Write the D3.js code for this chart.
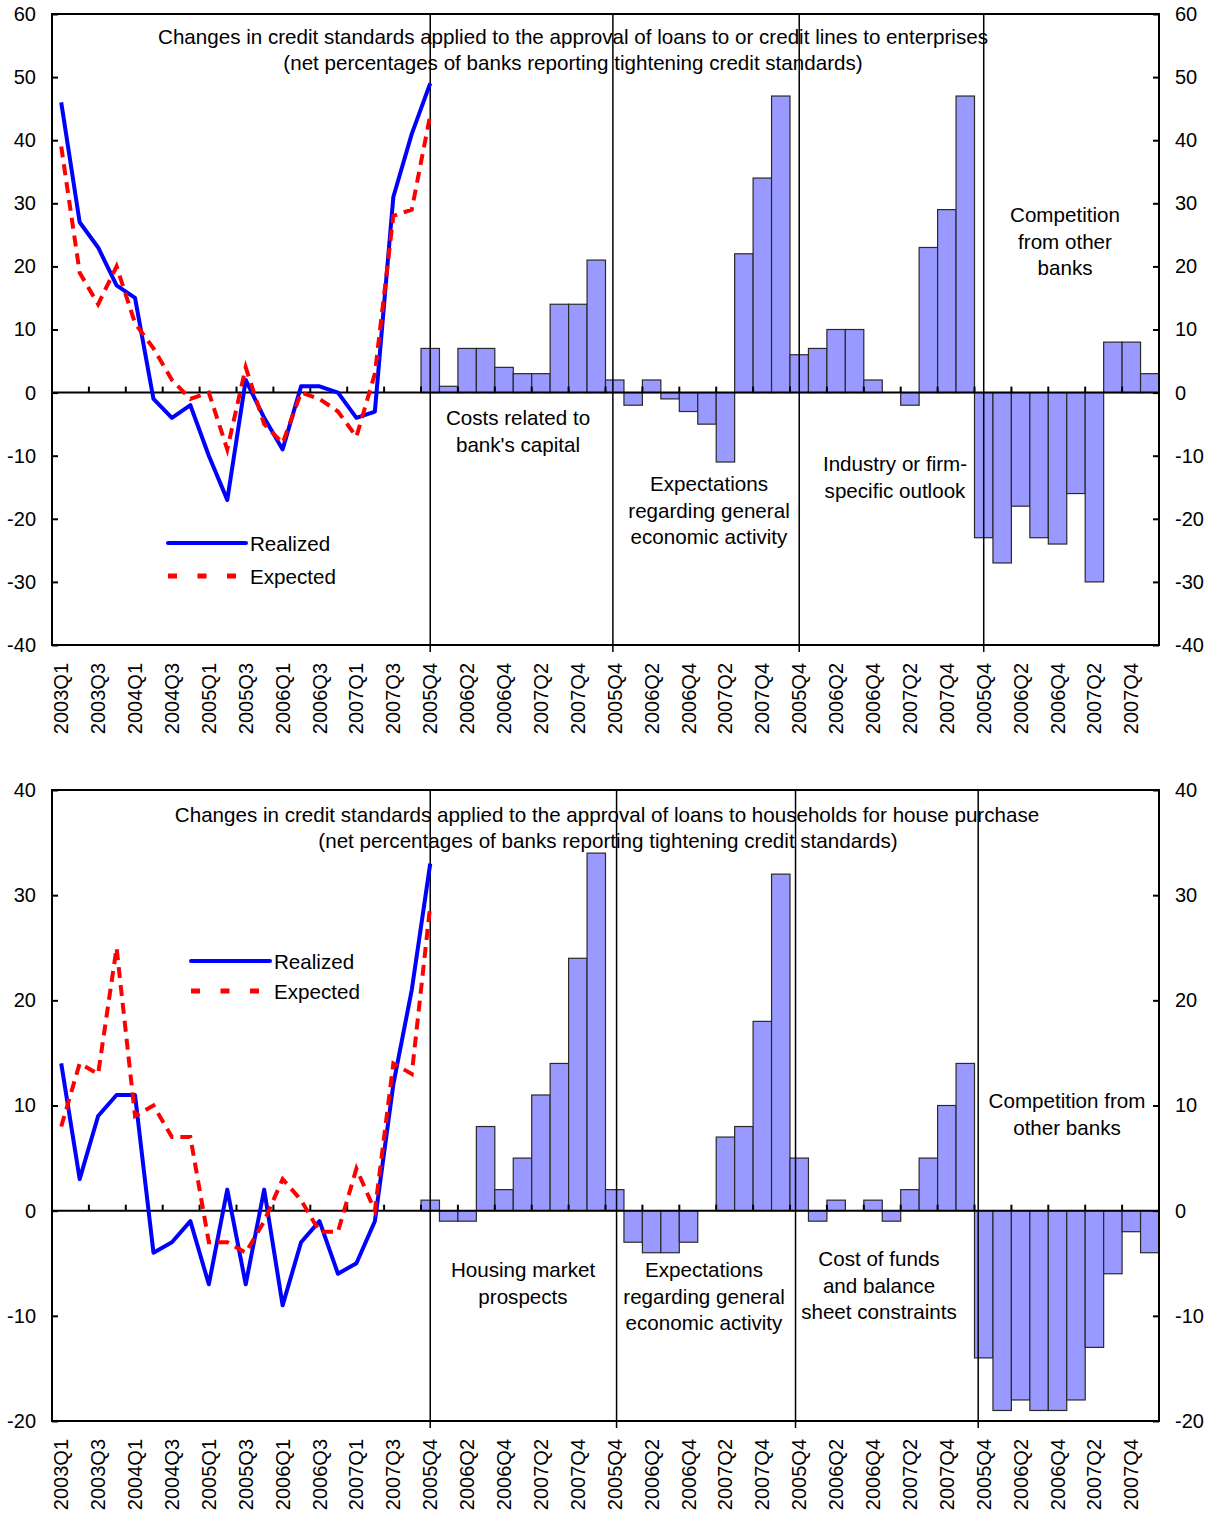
<!DOCTYPE html>
<html><head><meta charset="utf-8">
<script src="https://cdn.jsdelivr.net/npm/d3@7"></script>
<style>
body{margin:0;background:#fff}
svg{display:block}
text{font-family:"Liberation Sans",Arial,sans-serif;fill:#000}
</style>
</head><body>
<svg id="c" width="1214" height="1516"></svg>
<script>
// ---------- DATA ----------
const lineQuarters = ["2003Q1","2003Q2","2003Q3","2003Q4","2004Q1","2004Q2","2004Q3","2004Q4",
  "2005Q1","2005Q2","2005Q3","2005Q4","2006Q1","2006Q2","2006Q3","2006Q4",
  "2007Q1","2007Q2","2007Q3","2007Q4"];
const barQuarters = ["2005Q4","2006Q1","2006Q2","2006Q3","2006Q4","2007Q1","2007Q2","2007Q3","2007Q4","2008Q1"];
const categories = lineQuarters.concat(barQuarters, barQuarters, barQuarters, barQuarters);

const entYTicks = [-40,-30,-20,-10,0,10,20,30,40,50,60];
const hhYTicks = [-20,-10,0,10,20,30,40];

// Enterprises (top panel)
const entRealized = [46,27,23,17,15,-1,-4,-2,-10,-17,2,-4,-9,1,1,0,-4,-3,31,41,49];
const entExpected = [39,19,14,20,11,7,2,-1,0,-9,4,-5,-8,0,-1,-3,-7,3,28,29,44];
const entCapital     = [7,1,7,7,4,3,3,14,14,21];
const entEconomic    = [2,-2,2,-1,-3,-5,-11,22,34,47];
const entIndustry    = [6,7,10,10,2,0,-2,23,29,47];
const entCompetition = [-23,-27,-18,-23,-24,-16,-30,8,8,3];

// Households for house purchase (bottom panel)
const hhRealized = [14,3,9,11,11,-4,-3,-1,-7,2,-7,2,-9,-3,-1,-6,-5,-1,12,21,33];
const hhExpected = [8,14,13,25,9,10,7,7,-3,-3,-4,-1,3,1,-2,-2,4,0,14,13,29];
const hhHousing     = [1,-1,-1,8,2,5,11,14,24,34];
const hhEconomic    = [2,-3,-4,-4,-3,0,7,8,18,32];
const hhCostFunds   = [5,-1,1,0,1,-1,2,5,10,14];
const hhCompetition = [-14,-19,-18,-19,-19,-18,-13,-6,-2,-4];

const seriesNames = ["Realized","Expected"];

// ---------- LAYOUT ----------
const svg = d3.select("#c");
const X0 = 52, X1 = 1159;
const FS = 20.6;
const x = d3.scaleBand().domain(d3.range(categories.length)).range([X0, X1]).padding(0);
const bw = x.bandwidth();
const cx = i => x(i) + bw / 2;
const fx = c => X0 + (c + 0.5) * bw;

const panels = [
  {
    top: 14, bottom: 645, domain: [-40, 60], ticks: entYTicks,
    realized: entRealized, expected: entExpected,
    sections: [entCapital, entEconomic, entIndustry, entCompetition],
    dividers: [20, 29.9, 40, 50],
    titles: [
      {t: "Changes in credit standards applied to the approval of loans to or credit lines to enterprises", x: 573, y: 44},
      {t: "(net percentages of banks reporting tightening credit standards)", x: 573, y: 70}
    ],
    notes: [
      {lines: ["Costs related to", "bank's capital"], x: 518, y: 425},
      {lines: ["Expectations", "regarding general", "economic activity"], x: 709, y: 491},
      {lines: ["Industry or firm-", "specific outlook"], x: 895, y: 471},
      {lines: ["Competition", "from other", "banks"], x: 1065, y: 222}
    ],
    legend: {x1: 168, x2: 246, xd2: 238, xt: 250, y: 543, gap: 33}
  },
  {
    top: 790, bottom: 1421, domain: [-20, 40], ticks: hhYTicks,
    realized: hhRealized, expected: hhExpected,
    sections: [hhHousing, hhEconomic, hhCostFunds, hhCompetition],
    dividers: [20, 30.1, 39.8, 49.7],
    titles: [
      {t: "Changes in credit standards applied to the approval of loans to households for house purchase", x: 607, y: 822},
      {t: "(net percentages of banks reporting tightening credit standards)", x: 608, y: 848}
    ],
    notes: [
      {lines: ["Housing market", "prospects"], x: 523, y: 1277},
      {lines: ["Expectations", "regarding general", "economic activity"], x: 704, y: 1277},
      {lines: ["Cost of funds", "and balance", "sheet constraints"], x: 879, y: 1266},
      {lines: ["Competition from", "other banks"], x: 1067, y: 1108}
    ],
    legend: {x1: 191, x2: 270, xd2: 262, xt: 274, y: 961, gap: 30}
  }
];

function drawPanel(p) {
  const y = d3.scaleLinear().domain(p.domain).range([p.bottom, p.top]);
  const g = svg.append("g");

  // bars
  const barData = [];
  p.sections.forEach((vals, s) => vals.forEach((v, j) => barData.push({i: 20 + s * 10 + j, v})));
  g.selectAll("rect.bar").data(barData.filter(d => d.v !== 0)).join("rect")
    .attr("class", "bar")
    .attr("x", d => x(d.i)).attr("width", bw)
    .attr("y", d => y(Math.max(0, d.v)))
    .attr("height", d => Math.abs(y(d.v) - y(0)))
    .attr("fill", "#9999FF").attr("stroke", "#2a2a2a").attr("stroke-width", 1.2);

  // section dividers
  g.selectAll("line.div").data(p.dividers).join("line")
    .attr("class", "div")
    .attr("x1", d => fx(d)).attr("x2", d => fx(d))
    .attr("y1", p.top).attr("y2", p.bottom + 7)
    .attr("stroke", "#000").attr("stroke-width", 1.5);

  // zero line
  g.append("line").attr("x1", X0).attr("x2", X1).attr("y1", y(0)).attr("y2", y(0))
    .attr("stroke", "#000").attr("stroke-width", 2);

  // x ticks on zero line
  g.selectAll("line.xt").data(d3.range(2, categories.length, 2)).join("line")
    .attr("class", "xt")
    .attr("x1", k => x(k)).attr("x2", k => x(k))
    .attr("y1", y(0)).attr("y2", y(0) - 6)
    .attr("stroke", "#000").attr("stroke-width", 2);

  // y axes
  const fmt = d => String(d);
  const left = g.append("g").attr("transform", `translate(${X0},0)`)
    .call(d3.axisLeft(y).tickValues(p.ticks).tickFormat(fmt).tickSize(-6).tickSizeOuter(0).tickPadding(16));
  const right = g.append("g").attr("transform", `translate(${X1},0)`)
    .call(d3.axisRight(y).tickValues(p.ticks).tickFormat(fmt).tickSize(-6).tickSizeOuter(0).tickPadding(16));
  [left, right].forEach(a => {
    a.select(".domain").remove();
    a.selectAll(".tick line").attr("stroke", "#000").attr("stroke-width", 2);
    a.selectAll(".tick text").attr("font-size", 20).attr("font-family", "Liberation Sans, Arial, sans-serif").attr("fill", "#000");
  });

  // frame
  g.append("rect").attr("x", X0).attr("y", p.top).attr("width", X1 - X0).attr("height", p.bottom - p.top)
    .attr("fill", "none").attr("stroke", "#000").attr("stroke-width", 2);

  // x labels
  g.selectAll("text.xl").data(d3.range(0, categories.length, 2)).join("text")
    .attr("class", "xl")
    .attr("transform", i => `translate(${cx(i)},${p.bottom + 18}) rotate(-90)`)
    .attr("text-anchor", "end").attr("dy", "0.35em").attr("font-size", 20)
    .text(i => categories[i]);

  // lines
  const ln = d3.line().x((d, i) => cx(i)).y(d => y(d));
  g.append("path").attr("d", ln(p.realized)).attr("fill", "none")
    .attr("stroke", "#0000FF").attr("stroke-width", 4).attr("stroke-linejoin", "round");
  g.append("path").attr("d", ln(p.expected)).attr("fill", "none")
    .attr("stroke", "#FF0000").attr("stroke-width", 4).attr("stroke-dasharray", "11,7");

  // titles
  p.titles.forEach(t => g.append("text").attr("x", t.x).attr("y", t.y)
    .attr("text-anchor", "middle").attr("font-size", FS).text(t.t));

  // notes
  p.notes.forEach(n => {
    const tx = g.append("text").attr("text-anchor", "middle").attr("font-size", FS);
    n.lines.forEach((l, k) => tx.append("tspan").attr("x", n.x).attr("y", n.y + k * 26.5).text(l));
  });

  // legend
  const L = p.legend;
  g.append("line").attr("x1", L.x1).attr("x2", L.x2).attr("y1", L.y).attr("y2", L.y)
    .attr("stroke", "#0000FF").attr("stroke-width", 4).attr("stroke-linecap", "round");
  g.append("line").attr("x1", L.x1).attr("x2", L.xd2).attr("y1", L.y + L.gap).attr("y2", L.y + L.gap)
    .attr("stroke", "#FF0000").attr("stroke-width", 5).attr("stroke-dasharray", "9,20.5");
  seriesNames.forEach((s, k) => g.append("text").attr("x", L.xt).attr("y", L.y + 8 + k * L.gap)
    .attr("font-size", FS).text(s));
}

panels.forEach(drawPanel);
</script>
</body></html>
